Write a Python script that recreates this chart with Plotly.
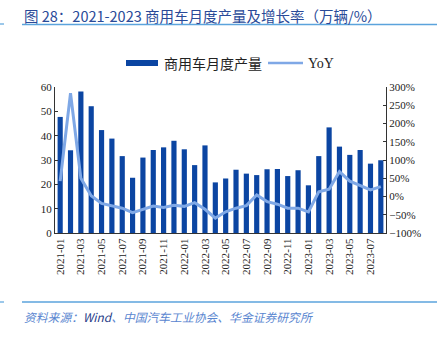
import plotly.graph_objects as go

# Monthly commercial-vehicle output (10k units) and YoY growth (%)
months = [f"{y}-{m:02d}" for y in (2021, 2022, 2023) for m in range(1, 13)][:32]
output = [47.7, 34.0, 58.1, 52.1, 42.3, 38.8, 31.6, 22.7, 31.0, 34.1, 35.2, 37.9,
          34.4, 27.9, 36.0, 20.8, 22.4, 26.0, 24.4, 23.8, 26.2, 26.3, 23.4, 25.8,
          19.6, 31.6, 43.4, 35.5, 32.1, 34.1, 28.5, 29.9]
yoy = [42, 283, 50, 2, -19, -26, -32, -44, -34, -26, -30, -24,
       -27, -17, -35, -59, -42, -32, -25, 4, -14, -21, -32, -32,
       -42, 13, 20, 68, 42, 31, 18, 27]
tick_months = months[::2]

W, H = 442, 340
L, R, T, B = 55, 386, 87, 233  # plot area in pixels

def px(x):
    return (x - L) / (R - L)

def py(y):
    return (B - y) / (B - T)

BAR = "#0B45A2"
LINE = "#7FA8E6"
RULE = "#5BA3DC"
SERIF = "Liberation Serif, Times New Roman, serif"
CJK = "Noto Sans CJK SC, sans-serif"

fig = go.Figure()
fig.add_trace(go.Bar(x=months, y=output, marker_color=BAR, marker_line_width=0,
                     name="商用车月度产量", yaxis="y"))
fig.add_trace(go.Scatter(x=months, y=yoy, mode="lines", line=dict(color=LINE, width=3),
                         name="YoY", yaxis="y2"))

fig.update_layout(
    width=W, height=H,
    margin=dict(l=L, r=W - R, t=T, b=H - B),
    paper_bgcolor="white", plot_bgcolor="white",
    showlegend=False, bargap=0.5,
    xaxis=dict(type="category", tickmode="array", tickvals=tick_months, ticktext=tick_months,
               tickangle=-90, tickfont=dict(family=SERIF, size=11, color="#222"),
               showline=True, linecolor="#333", linewidth=1, ticks="", showgrid=False,
               range=[-0.5, 31.5]),
    yaxis=dict(range=[0, 60], dtick=10, showgrid=False, zeroline=False,
               showline=True, linecolor="#333", linewidth=1.2, ticks="inside", ticklen=3,
               tickcolor="#333", tickfont=dict(family=SERIF, size=11, color="#222")),
    yaxis2=dict(range=[-100, 300], dtick=50, ticksuffix="%", overlaying="y", side="right",
                showgrid=False, zeroline=False, showline=True, linecolor="#333", linewidth=1.2,
                ticks="inside", ticklen=3, tickcolor="#333",
                tickfont=dict(family=SERIF, size=11, color="#222")),
)

shapes = [
    # rules under the title and above the source note
    dict(type="line", xref="paper", yref="paper", x0=px(0), x1=px(4), y0=py(24), y1=py(24),
         line=dict(color=RULE, width=1.2)),
    dict(type="line", xref="paper", yref="paper", x0=px(22), x1=px(437), y0=py(24.5), y1=py(24.5),
         line=dict(color=RULE, width=1.5)),
    dict(type="line", xref="paper", yref="paper", x0=px(0), x1=px(4), y0=py(302), y1=py(302),
         line=dict(color=RULE, width=1.2)),
    dict(type="line", xref="paper", yref="paper", x0=px(22), x1=px(437), y0=py(302), y1=py(302),
         line=dict(color=RULE, width=1.5)),
    # legend keys
    dict(type="rect", xref="paper", yref="paper", x0=px(126), x1=px(158), y0=py(66), y1=py(60),
         fillcolor=BAR, line=dict(width=0)),
    dict(type="line", xref="paper", yref="paper", x0=px(268), x1=px(303), y0=py(63), y1=py(63),
         line=dict(color=LINE, width=2.5)),
]

annotations = [
    dict(text="图 28：2021-2023 商用车月度产量及增长率（万辆/%）", xref="paper", yref="paper",
         x=px(22), y=py(15), xanchor="left", yanchor="middle", showarrow=False,
         font=dict(family=CJK, size=14.5, color="#2A4A98")),
    dict(text="<i>资料来源：<span style='color:#1F3C88'>Wind</span>、中国汽车工业协会、华金证券研究所</i>",
         xref="paper", yref="paper", x=px(22), y=py(316), xanchor="left", yanchor="middle",
         showarrow=False, font=dict(family=CJK, size=11.8, color="#5A86D0")),
    dict(text="商用车月度产量", xref="paper", yref="paper", x=px(162), y=py(63),
         xanchor="left", yanchor="middle", showarrow=False,
         font=dict(family=CJK, size=14, color="#222")),
    dict(text="YoY", xref="paper", yref="paper", x=px(306), y=py(63),
         xanchor="left", yanchor="middle", showarrow=False,
         font=dict(family=SERIF, size=14, color="#222")),
]

fig.update_layout(shapes=shapes, annotations=annotations)
fig.write_html("out.html")
